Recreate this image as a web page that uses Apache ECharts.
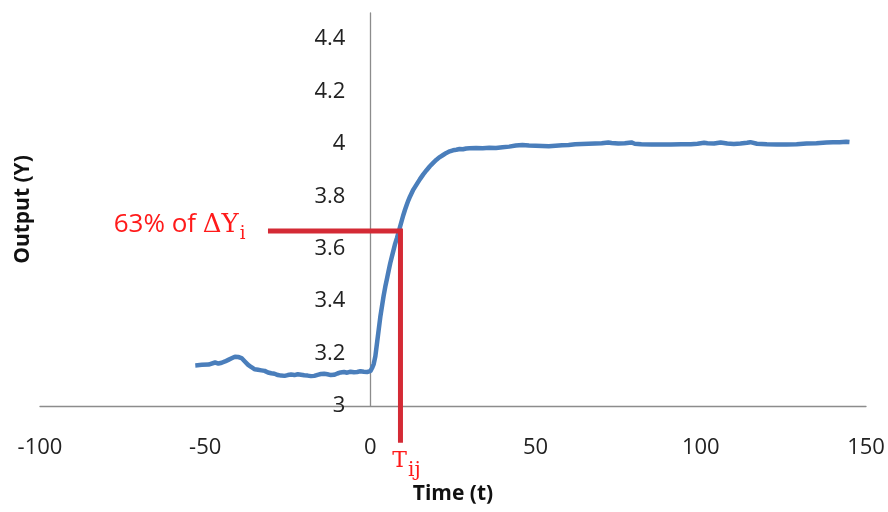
<!DOCTYPE html>
<html>
<head>
<meta charset="utf-8">
<script src="https://cdn.jsdelivr.net/npm/echarts@6/dist/echarts.min.js"></script>
<style>html,body{margin:0;padding:0;background:#fff}#c{width:888px;height:512px}</style>
</head>
<body>
<div id="c"></div>
<script>
// Time values (t)
var timeVals = [-53,-51,-49,-47,-46,-45,-44,-43,-42,-41,-40,-39,-38,-37,-36,-35,-34,-33,-32,-31,-30,-29,-28,-27,-26,-25,-24,-23,-22,-21,-20,-19,-18,-17,-16,-15,-14,-13,-12,-11,-10,-9,-8,-7,-6,-5,-4,-3,-2,-1,0,
  0.5,1,1.5,2,2.5,3,3.5,4,4.5,5,5.5,6,6.5,7,7.5,8,8.5,9,9.5,10,10.5,11,11.5,12,13,14,15,16,17,18,19,20,21,22,23,24,25,26,27,28,29,30,
  32,34,36,38,40,42,44,46,48,50,52,54,56,58,60,62,64,66,68,70,72,73,75,77,79,80,82,85,88,91,94,97,99,101,102,104,106,108,110,112,114,115,117,120,123,126,129,132,135,138,140,142,144,145];
// Output values (Y)
var outputVals = [3.155,3.157,3.158,3.166,3.162,3.165,3.170,3.176,3.182,3.188,3.187,3.183,3.170,3.157,3.148,3.140,3.138,3.136,3.134,3.128,3.125,3.123,3.118,3.116,3.115,3.118,3.120,3.118,3.121,3.119,3.117,3.116,3.114,3.115,3.119,3.122,3.123,3.121,3.118,3.119,3.124,3.128,3.130,3.127,3.131,3.129,3.130,3.133,3.131,3.130,3.133,
  3.145,3.16,3.19,3.24,3.29,3.34,3.38,3.42,3.455,3.485,3.515,3.545,3.57,3.595,3.62,3.64,3.662,3.685,3.708,3.73,3.75,3.768,3.785,3.80,3.826,3.846,3.866,3.884,3.900,3.915,3.928,3.940,3.950,3.958,3.966,3.972,3.976,3.978,3.981,3.980,3.983,3.984,
  3.985,3.984,3.986,3.985,3.988,3.990,3.994,3.996,3.994,3.993,3.992,3.991,3.993,3.995,3.996,3.999,4.000,4.001,4.002,4.003,4.006,4.004,4.002,4.003,4.006,4.001,3.999,3.998,3.998,3.998,3.999,3.999,4.001,4.005,4.003,4.002,4.006,4.002,4.000,4.002,4.005,4.007,4.001,3.999,3.998,3.998,3.999,4.002,4.003,4.006,4.007,4.007,4.009,4.008];
// Annotation values
var tauTime = 9.1;          // T_ij
var level63 = 3.668;        // 63% of delta Y
var guideLeftTime = -31;
var guideBottomY = 2.86;
var xTicks = {min: -100, max: 150, step: 50};
var yTicks = {min: 3, max: 4.5, step: 0.2};

var lineData = timeVals.map(function (t, i) { return [t, outputVals[i]]; });

var gridLeft = 40, gridRight = 22, W = 888;
// shift the y axis (line + labels + name) so it crosses the x axis at t = 0
var yAxisShift = -(W - gridLeft - gridRight) * (0 - xTicks.min) / (xTicks.max - xTicks.min);

var chart = echarts.init(document.getElementById('c'));
chart.setOption({
  animation: false,
  backgroundColor: '#fff',
  grid: {left: gridLeft, right: gridRight, top: 13, bottom: 106, outerBoundsMode: 'none', containLabel: false},
  xAxis: {
    type: 'value', min: xTicks.min, max: xTicks.max, interval: xTicks.step,
    axisLine: {onZero: false, lineStyle: {color: '#8c8c8c', width: 1.3}},
    axisTick: {show: false},
    splitLine: {show: false},
    axisLabel: {margin: 31, color: '#222', fontSize: 22, fontFamily: 'Open Sans'},
    name: 'Time (t)', nameLocation: 'middle', nameGap: 78,
    nameTextStyle: {fontWeight: 'bold', fontSize: 21, color: '#111', fontFamily: 'Open Sans'}
  },
  yAxis: {
    type: 'value', min: yTicks.min, max: yTicks.max, interval: yTicks.step,
    offset: yAxisShift,
    axisLine: {show: true, onZero: false, lineStyle: {color: '#8c8c8c', width: 1.3}},
    axisTick: {show: false},
    splitLine: {show: false},
    axisLabel: {margin: 25, color: '#222', fontSize: 22, fontFamily: 'Open Sans', showMaxLabel: false, padding: [5, 0, 0, 0]},
    name: 'Output (Y)', nameLocation: 'middle', nameGap: 337,
    nameTextStyle: {fontWeight: 'bold', fontSize: 21, color: '#111', fontFamily: 'Open Sans'}
  },
  series: [
    {
      type: 'line', data: lineData, showSymbol: false, symbol: 'none',
      lineStyle: {color: '#4a7ebb', width: 4.5}, itemStyle: {color: '#4a7ebb'}, z: 2
    },
    {
      type: 'line', clip: false, symbol: 'circle', symbolSize: 1, showSymbol: true, z: 3,
      itemStyle: {color: 'rgba(0,0,0,0)'},
      lineStyle: {color: '#d42a35', width: 5, join: 'miter'},
      data: [
        {value: [guideLeftTime, level63], label: {
          show: true, position: 'left', distance: 22, offset: [0, -6],
          formatter: '{a|63% of }{b|ΔY}{s|i}',
          rich: {
            a: {fontFamily: 'Open Sans', fontSize: 26, color: '#ff1a1a', lineHeight: 30, verticalAlign: 'middle'},
            b: {fontFamily: 'DejaVu Serif', fontSize: 26, color: '#ff1a1a', lineHeight: 30, verticalAlign: 'middle'},
            s: {fontFamily: 'DejaVu Serif', fontSize: 18, color: '#ff1a1a', lineHeight: 18, verticalAlign: 'bottom', padding: [0, 0, -3, 1]}
          }
        }},
        {value: [tauTime, level63]},
        {value: [tauTime, guideBottomY], label: {
          show: true, position: 'bottom', distance: 5, offset: [6, 0],
          formatter: '{b|T}{s|ij}',
          rich: {
            b: {fontFamily: 'DejaVu Serif', fontSize: 22, color: '#ff1a1a', lineHeight: 26, verticalAlign: 'middle'},
            s: {fontFamily: 'DejaVu Serif', fontSize: 20, color: '#ff1a1a', lineHeight: 18, verticalAlign: 'bottom', padding: [0, 0, -7, 1]}
          }
        }}
      ]
    }
  ]
});
</script>
</body>
</html>
